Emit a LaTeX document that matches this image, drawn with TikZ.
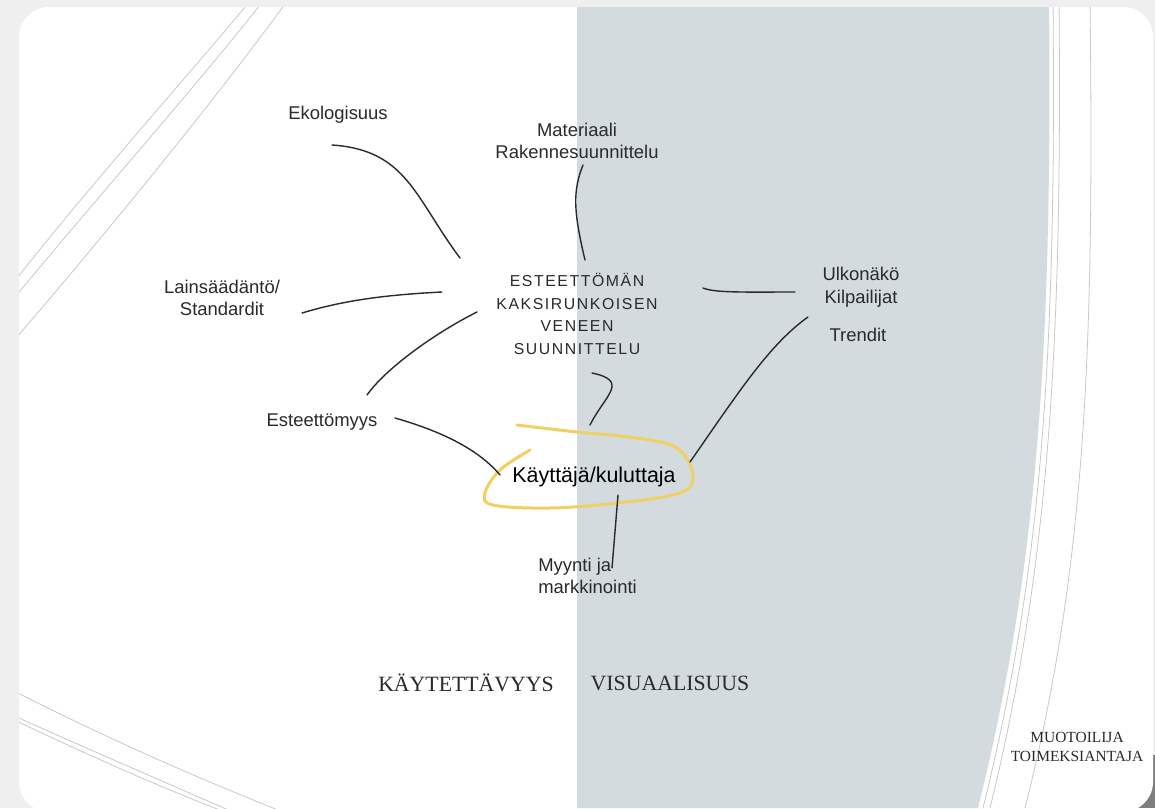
\documentclass[tikz,border=0pt]{standalone}
\usepackage{fontspec}
\setmainfont{Liberation Serif}
\setsansfont{Liberation Sans}
\newfontfamily\trackedsans[LetterSpace=10]{Liberation Sans}

\begin{document}
\begin{tikzpicture}[x=0.02cm, y=-0.02cm, font=\sffamily]

\definecolor{mapink}{HTML}{2A2A2A}
\definecolor{mappaper}{HTML}{EFEFEF}
\definecolor{mapcorner}{HTML}{7E7E7E}
\definecolor{mapshade}{HTML}{D3DBDF}
\definecolor{mapgroove}{HTML}{C8C8C8}
\definecolor{mapmark}{HTML}{F0D064}

\tikzset{
  topic/.style={
    text=mapink, align=center, inner sep=0pt,
    font=\sffamily\fontsize{10.5}{12.8}\selectfont
  },
  hub/.style={
    text=mapink, align=center, inner sep=0pt,
    font=\trackedsans\fontsize{9}{12.9}\selectfont
  },
  user/.style={
    text=black, inner sep=0pt, font=\sffamily\fontsize{12.2}{14}\selectfont
  },
  axislabel/.style={
    text=mapink, inner sep=0pt, font=\rmfamily\fontsize{12.4}{14}\selectfont
  },
  roles/.style={
    text=mapink, align=center, inner sep=0pt,
    font=\rmfamily\fontsize{8.8}{10.6}\selectfont
  },
  strand/.style={draw=mapink, line width=0.8pt, line cap=round},
  groove/.style={draw=mapgroove, line width=0.45pt},
  usermark/.style={draw=mapmark, line width=1.7pt, line cap=round}
}

\useasboundingbox (0,0) rectangle (1155,808);

% Paper behind the card, with the dark corner showing at bottom right.
\fill[mappaper] (0,0) rectangle (1155,808);
\fill[mapcorner] (1100,755) rectangle (1155,808);
\fill[white, rounded corners=0.6cm] (19,7) rectangle (1153,812);

% The right half of the card is shaded; its outer edge and the thin
% grooves are parts of big ovals, so everything is clipped to the card.
\begin{scope}
  \clip[rounded corners=0.6cm] (19,7) rectangle (1153,812);
  \fill[mapshade] (577,0) -- (1049,0)
    .. controls (1052,330) and (1040,560) .. (978,808) -- (577,808) -- cycle;
  % right
  \draw[groove] (1053,0) .. controls (1056,330) and (1045,560) .. (983,808);
  \draw[groove] (1059,0) .. controls (1062,330) and (1051,560) .. (990,808);
  \draw[groove] (1090,0) .. controls (1094,330) and (1088,560) .. (1025,808);
  % top left
  \draw[groove] (251,0) .. controls (180,85) and (90,185) .. (10,287);
  \draw[groove] (264,0) .. controls (193,90) and (95,200) .. (10,303);
  \draw[groove] (288,0) .. controls (215,100) and (105,235) .. (10,345);
  % bottom left
  \draw[groove] (10,689) .. controls (100,735) and (190,775) .. (283,812);
  \draw[groove] (10,714) .. controls (90,750) and (160,780) .. (233,812);
  \draw[groove] (10,718) .. controls (88,755) and (155,785) .. (225,812);
\end{scope}

% Topics around the design task.
\node[topic] (eko)   at (338,115) {Ekologisuus};
\node[topic] (mat)   at (577,141) {Materiaali\\Rakennesuunnittelu};
\node[topic] (lain)  at (222,298) {Lains\"a\"ad\"ant\"o/\\Standardit};
\node[topic] (este)  at (322,422) {Esteett\"omyys};
\node[topic] (ulko)  at (861,287) {Ulkon\"ak\"o\\Kilpailijat};
\node[topic] (trend) at (858,335) {Trendit};
\node[topic, align=left, anchor=west] (myyn) at (538,576)
  {Myynti ja\\markkinointi};

\node[hub] (boat) at (577,314)
  {ESTEETT\"OM\"AN\\KAKSIRUNKOISEN\\VENEEN\\SUUNNITTELU};
\node[user] (user) at (594,477) {K\"aytt\"aj\"a/kuluttaja};

% The user is ringed by hand.
\draw[usermark] plot[smooth, tension=0.6] coordinates {
  (517,425) (577,432) (637,438) (677,448) (693,475) (680,493)
  (617,503) (550,508) (493,505) (485,493) (500,470) (530,450)};

% Loose ends of the hand-drawn strands.
\coordinate (ekoA)  at (332,145);  \coordinate (ekoB)  at (460,258);
\coordinate (matA)  at (583,165);  \coordinate (matB)  at (585,260);
\coordinate (lainA) at (302,313);  \coordinate (lainB) at (442,292);
\coordinate (esteA) at (367,395);  \coordinate (esteB) at (477,312);
\coordinate (esteC) at (395,418);  \coordinate (esteD) at (500,475);
\coordinate (boatA) at (592,373);  \coordinate (boatB) at (590,425);
\coordinate (ulkoA) at (703,288);  \coordinate (ulkoB) at (795,292);
\coordinate (userA) at (690,462);  \coordinate (userB) at (808,317);
\coordinate (myynA) at (618,495);  \coordinate (myynB) at (612,568);

\draw[strand] (ekoA) .. controls +(75,5) and +(-45,-60) .. (ekoB);
\draw[strand] (matA) .. controls +(-10,25) and +(-12,-50) .. (matB);
\draw[strand] (lainA) .. controls +(40,-12) and +(-60,3) .. (lainB);
\draw[strand] (esteA) .. controls +(20,-28) and +(-40,20) .. (esteB);
\draw[strand] (esteC) .. controls +(35,10) and +(-25,-30) .. (esteD);
\draw[strand] (boatA) .. controls +(38,8) and +(15,-30) .. (boatB);
\draw[strand] (ulkoA) .. controls +(12,5) and +(-50,0) .. (ulkoB);
\draw[strand] (userA) .. controls +(50,-72) and +(-38,27) .. (userB);
\draw[strand] (myynA) -- (myynB);

% The two halves of the card, and who reads it.
\node[axislabel] (usab) at (466,683) {K\"AYTETT\"AVYYS};
\node[axislabel] (visu) at (670,683) {VISUAALISUUS};
\node[roles] (who) at (1077,747) {MUOTOILIJA\\TOIMEKSIANTAJA};

\end{tikzpicture}
\end{document}
